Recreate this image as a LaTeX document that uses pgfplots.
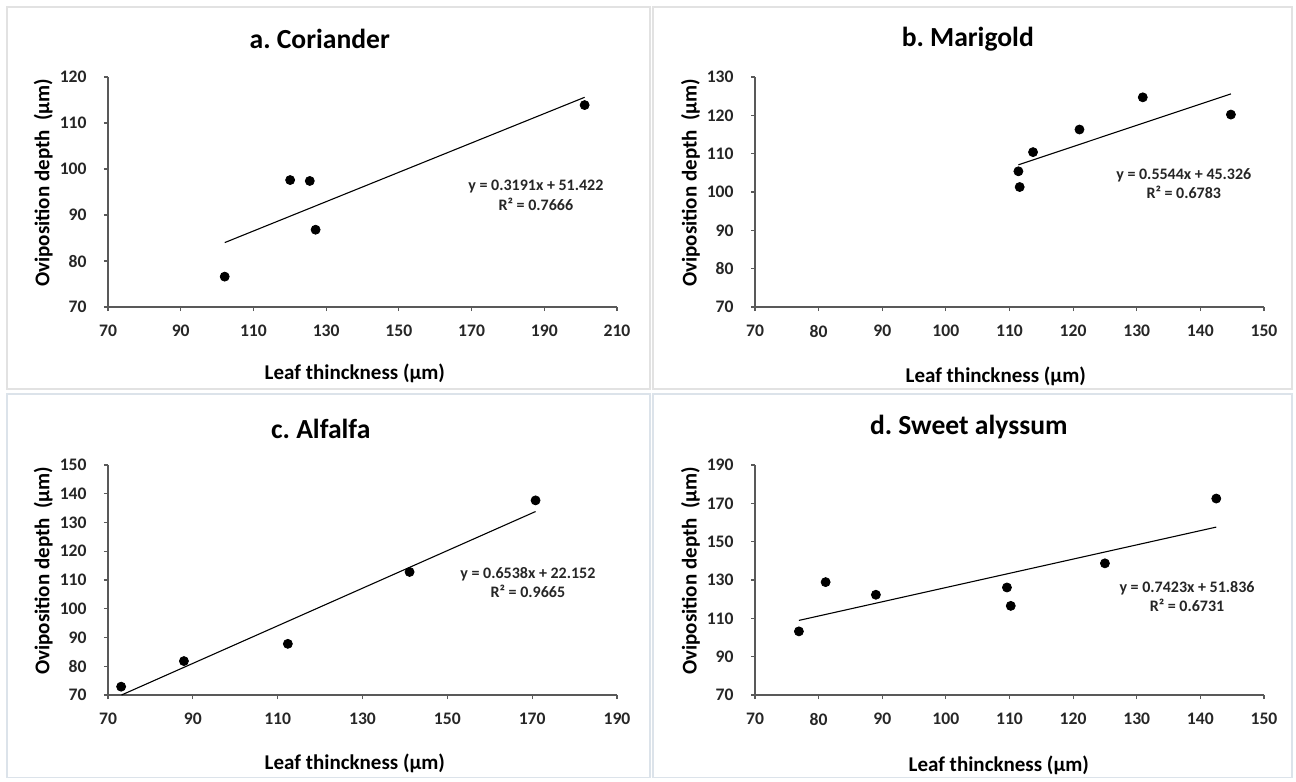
\documentclass[border=0pt]{standalone}
\usepackage{fontspec}
\setmainfont{Carlito}
\usepackage{pgfplots}
\pgfplotsset{compat=1.18}
\frenchspacing
\definecolor{axgray}{HTML}{595959}
\definecolor{tickcol}{HTML}{262626}
\definecolor{framegray}{HTML}{E2E2E2}
\definecolor{sepblue}{HTML}{DCE3EA}
\tikzset{eqn/.style={align=center, font=\bfseries\fontsize{8}{9.65}\selectfont, text=tickcol}}
\pgfplotsset{panel/.style={
  scale only axis, width=254.5pt, height=115pt,
  axis x line*=bottom, axis y line*=left,
  axis line style={draw=axgray, line width=0.7pt},
  every tick/.style={draw=axgray, line width=0.6pt},
  tick align=outside, major tick length=2pt,
  ticklabel style={font=\bfseries\fontsize{8.8}{10}\selectfont, text=tickcol},
  xticklabel style={yshift=-3.6pt},
  yticklabel style={xshift=-5.2pt},
  /pgf/number format/assume math mode=true,
  label style={font=\bfseries\fontsize{10.5}{12}\selectfont, text=black},
  every axis title shift=0pt,
  title style={font=\bfseries\fontsize{13.8}{16}\selectfont, anchor=center, yshift=0pt},
  clip=false,
  xlabel={Leaf thinckness (µm)}, ylabel={Oviposition depth\ \ (µm)},
  ylabel style={anchor=center, at={(axis description cs:-0.127,0.54)}},
  pts/.style={only marks, mark=*, mark size=2.25pt, draw=black, fill=black},
  trend/.style={black, line width=0.55pt, no marks},
}}
\begin{document}
\begin{tikzpicture}
\path[fill=white] (0,0) rectangle (648pt,389pt);
\draw[framegray, line width=0.6pt] (3.5pt,385.5pt) rectangle (325pt,194.5pt);
\draw[framegray, line width=0.6pt] (326.5pt,385.5pt) rectangle (646pt,194.5pt);
\draw[sepblue, line width=0.6pt] (3.5pt,192pt) rectangle (325pt,0.3pt);
\draw[sepblue, line width=0.6pt] (326.5pt,192pt) rectangle (646pt,0.3pt);

% a. Coriander
\begin{axis}[panel, at={(54pt,235.5pt)}, anchor=south west,
  xmin=70, xmax=210, ymin=70, ymax=120,
  xtick={70,90,...,210}, ytick={70,80,...,120},
  title={a. Coriander}, title style={at={(axis description cs:0.416,1.164)}},
  xlabel style={anchor=center, at={(axis description cs:0.485,-0.287)}}]
\addplot[trend] coordinates {(102.1,84.00) (201.1,115.59)};
\addplot[pts] coordinates {(102.1,76.6) (120.1,97.6) (125.5,97.4) (127.1,86.8) (201.1,113.9)};
\node[eqn] at (axis cs:187.7,94.3) {y = 0.3191x + 51.422\\R² = 0.7666};
\end{axis}

% b. Marigold
\begin{axis}[panel, at={(377.5pt,235.5pt)}, anchor=south west,
  xmin=70, xmax=150, ymin=70, ymax=130,
  xtick={70,80,...,150}, ytick={70,80,...,130},
  title={b. Marigold}, title style={at={(axis description cs:0.418,1.164)}},
  xlabel style={anchor=center, at={(axis description cs:0.473,-0.303)}}]
\addplot[trend] coordinates {(111.4,107.09) (144.8,125.60)};
\addplot[pts] coordinates {(111.4,105.4) (111.6,101.3) (113.7,110.4) (121.0,116.3) (130.95,124.7) (144.8,120.2)};
\node[eqn] at (axis cs:137.4,102.2) {y = 0.5544x + 45.326\\R² = 0.6783};
\end{axis}

% c. Alfalfa
\begin{axis}[panel, at={(54pt,41.5pt)}, anchor=south west,
  xmin=70, xmax=190, ymin=70, ymax=150,
  xtick={70,90,...,190}, ytick={70,80,...,150},
  title={c. Alfalfa}, title style={at={(axis description cs:0.418,1.158)}},
  xlabel style={anchor=center, at={(axis description cs:0.485,-0.297)}}]
\addplot[trend] coordinates {(73.2,70.01) (170.8,133.82)};
\addplot[pts] coordinates {(73.1,72.9) (87.9,81.8) (112.4,87.8) (141.1,112.8) (170.8,137.7)};
\node[eqn] at (axis cs:169.0,109.2) {y = 0.6538x + 22.152\\R² = 0.9665};
\end{axis}

% d. Sweet alyssum
\begin{axis}[panel, at={(377.5pt,41.5pt)}, anchor=south west,
  xmin=70, xmax=150, ymin=70, ymax=190,
  xtick={70,80,...,150}, ytick={70,90,...,190},
  title={d. Sweet alyssum}, title style={at={(axis description cs:0.42,1.164)}},
  xlabel style={anchor=center, at={(axis description cs:0.479,-0.304)}}]
\addplot[trend] coordinates {(76.9,108.92) (142.5,157.61)};
\addplot[pts] coordinates {(76.9,103.2) (81.1,128.9) (89.0,122.3) (109.6,126.1) (110.2,116.5) (125.0,138.7) (142.5,172.5)};
\node[eqn] at (axis cs:137.9,121.5) {y = 0.7423x + 51.836\\R² = 0.6731};
\end{axis}
\end{tikzpicture}
\end{document}
